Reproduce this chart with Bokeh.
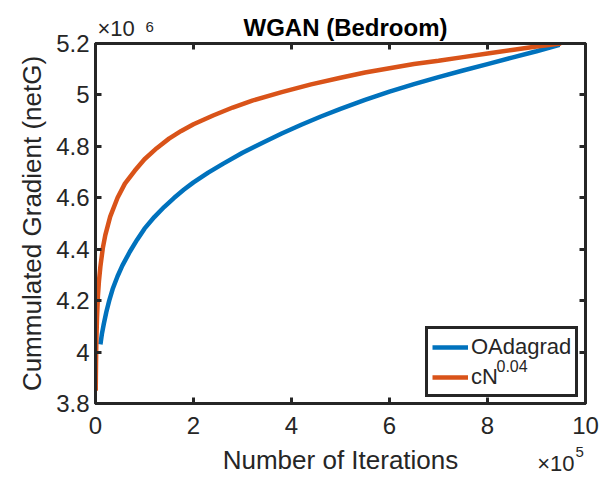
from bokeh.plotting import figure
from bokeh.models import (Range1d, LinearAxis, FixedTicker, CustomJSTickFormatter,
                          Legend, LegendItem)
from bokeh.core.properties import value
from bokeh.embed import file_html
from bokeh.resources import INLINE

# ---- data ----
blue_iter = [10000, 13000, 17000, 22000, 28000, 35000, 45000, 55000, 70000, 85000,
             100000, 120000, 140000, 160000, 180000, 200000, 230000, 260000, 300000, 340000,
             380000, 420000, 460000, 500000, 550000, 600000, 650000, 700000, 750000, 800000,
             850000, 900000, 947000]
blue_grad = [4.03e6, 4.07e6, 4.11e6, 4.155e6, 4.20e6, 4.245e6, 4.295e6, 4.337e6, 4.39e6, 4.437e6,
             4.48e6, 4.525e6, 4.564e6, 4.599e6, 4.631e6, 4.66e6, 4.698e6, 4.732e6, 4.775e6, 4.813e6,
             4.85e6, 4.884e6, 4.916e6, 4.946e6, 4.981e6, 5.013e6, 5.042e6, 5.069e6, 5.095e6, 5.12e6,
             5.145e6, 5.17e6, 5.195e6]

orange_iter = [500, 700, 1000, 1500, 2000, 3000, 5000, 7000, 10000, 15000,
               20000, 30000, 45000, 60000, 80000, 100000, 125000, 150000, 175000, 200000,
               240000, 280000, 320000, 380000, 440000, 500000, 550000, 600000, 650000, 700000,
               750000, 800000, 850000, 900000, 950000]
orange_grad = [3.85e6, 3.90e6, 3.95e6, 4.02e6, 4.06e6, 4.13e6, 4.22e6, 4.275e6, 4.333e6, 4.405e6,
               4.455e6, 4.527e6, 4.60e6, 4.655e6, 4.705e6, 4.75e6, 4.793e6, 4.83e6, 4.86e6, 4.886e6,
               4.92e6, 4.951e6, 4.978e6, 5.011e6, 5.041e6, 5.067e6, 5.087e6, 5.104e6, 5.12e6, 5.133e6,
               5.147e6, 5.161e6, 5.175e6, 5.188e6, 5.20e6]

x_ticks = [0, 200000, 400000, 600000, 800000, 1000000]
y_ticks = [3.8e6, 4.0e6, 4.2e6, 4.4e6, 4.6e6, 4.8e6, 5.0e6, 5.2e6]

series_names = ["OAdagrad", "cN"]
series_sup = "0.04"
title_text = "WGAN (Bedroom)"
x_label = "Number of Iterations"
y_label = "Cummulated Gradient (netG)"
x_exp = ("×10", "5")
y_exp = ("×10", "6")

FONT = "Liberation Sans"
AX = "#262626"
BLUE = "#0072BD"
ORANGE = "#D95319"

p = figure(width=601, height=477, output_backend="svg", toolbar_location=None,
           x_range=Range1d(0, 1e6), y_range=Range1d(3.8e6, 5.2e6),
           min_border_left=95, min_border_right=16, min_border_top=43, min_border_bottom=73,
           title=title_text)
p.background_fill_color = "white"
p.border_fill_color = "white"
p.outline_line_color = AX
p.outline_line_width = 3
p.xgrid.visible = False
p.ygrid.visible = False

p.title.text_font = FONT
p.title.text_font_size = "24px"
p.title.text_font_style = "bold"
p.title.text_color = "black"
p.title.align = "left"
p.title.standoff = 5
p.title.offset = 148

xfmt = CustomJSTickFormatter(code="return (tick/1e5).toFixed(0);")
yfmt = CustomJSTickFormatter(code="var v = tick/1e6; return String(Math.round(v*10)/10);")
nofmt = CustomJSTickFormatter(code="return '';")


def style(ax, show_labels=True):
    ax.axis_line_color = AX
    ax.axis_line_width = 3
    ax.major_tick_line_color = AX
    ax.major_tick_line_width = 3
    ax.major_tick_in = 6
    ax.major_tick_out = 0
    ax.minor_tick_line_color = None
    ax.major_label_text_font = FONT
    if show_labels:
        ax.major_label_text_color = AX
        ax.major_label_text_font_size = "24px"
        ax.major_label_text_line_height = 1.0
    else:
        ax.major_label_text_color = None
        ax.major_label_text_font_size = "0px"
        ax.major_label_standoff = 0
    ax.axis_label_text_font = FONT
    ax.axis_label_text_font_size = "26px"
    ax.axis_label_text_font_style = "normal"
    ax.axis_label_text_color = AX
    ax.axis_label_text_line_height = 1.0


xa = p.xaxis[0]
ya = p.yaxis[0]
xa.ticker = FixedTicker(ticks=x_ticks)
ya.ticker = FixedTicker(ticks=y_ticks)
xa.formatter = xfmt
ya.formatter = yfmt
style(xa)
style(ya)
xa.axis_label = x_label
ya.axis_label = y_label
xa.major_label_standoff = 13
ya.major_label_standoff = 6
xa.axis_label_standoff = 8
ya.axis_label_standoff = 6

top = LinearAxis(ticker=FixedTicker(ticks=x_ticks), formatter=nofmt)
right = LinearAxis(ticker=FixedTicker(ticks=y_ticks), formatter=nofmt)
style(top, False)
style(right, False)
p.add_layout(top, "above")
p.add_layout(right, "right")

r1 = p.line(blue_iter, blue_grad, line_color=BLUE, line_width=4.5)
r2 = p.line(orange_iter, orange_grad, line_color=ORANGE, line_width=4.5)

legend = Legend(items=[LegendItem(label=series_names[0], renderers=[r1]),
                       LegendItem(label=series_names[1], renderers=[r2])],
                location=(330, 6))
legend.border_line_color = AX
legend.border_line_width = 3
legend.border_line_alpha = 1
legend.background_fill_color = "white"
legend.background_fill_alpha = 0
legend.label_text_font = FONT
legend.label_text_font_size = "22px"
legend.label_text_color = AX
legend.glyph_width = 36
legend.glyph_height = 20
legend.label_standoff = 3
legend.label_height = 27
legend.padding = 4
legend.spacing = 3
legend.margin = 0
p.add_layout(legend, "center")


def note(x, y, text, size, dx, dy, align="left"):
    # text anchored at an axis corner, shifted by a few pixels (drawn above everything)
    p.text(x=[x], y=[y], text=[text], x_offset=dx, y_offset=dy,
           text_font=value(FONT), text_font_size=value(size), text_color=AX,
           text_align=align, text_baseline="alphabetic", level="overlay")


# superscript of the second legend entry
note(1e6, 3.8e6, series_sup, "16px", -89, -38)
# axis exponents
note(0, 5.2e6, y_exp[0], "22px", 2, -15)
note(0, 5.2e6, y_exp[1], "15px", 50, -17)
note(1e6, 3.8e6, x_exp[0], "22px", -11, 60, "right")
note(1e6, 3.8e6, x_exp[1], "15px", -10, 48)

open("out.html", "w").write(file_html(p, INLINE))
